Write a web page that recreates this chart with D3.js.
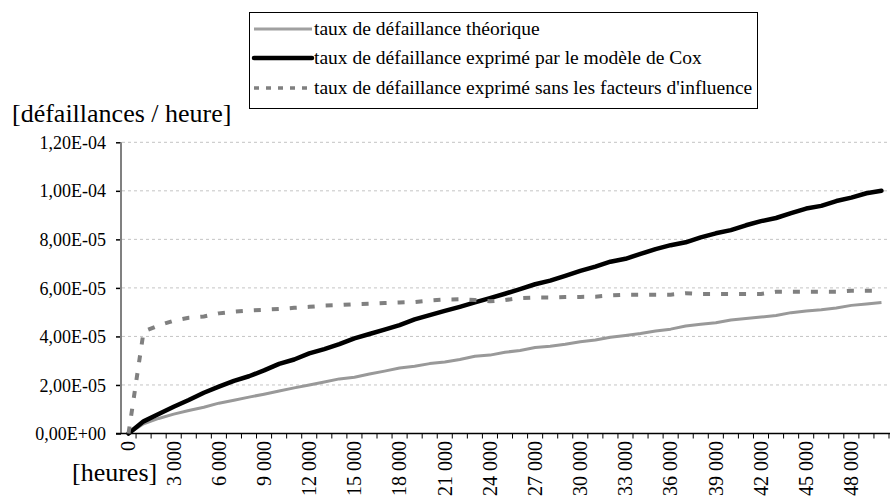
<!DOCTYPE html>
<html>
<head>
<meta charset="utf-8">
<script src="https://cdn.jsdelivr.net/npm/d3@7/dist/d3.min.js"></script>
<style>
  html, body { margin: 0; padding: 0; background: #fff; }
  svg { display: block; }
</style>
</head>
<body>
<svg id="chart" width="890" height="498"></svg>
<script>
// ---- data ----
const hours = [0,1000,2000,3000,4000,5000,6000,7000,8000,9000,10000,11000,12000,13000,14000,15000,16000,17000,18000,19000,20000,
  21000,22000,23000,24000,25000,26000,27000,28000,29000,30000,31000,32000,33000,34000,35000,36000,37000,38000,39000,40000,
  41000,42000,43000,44000,45000,46000,47000,48000,49000,50000];

// values in units of 1e-5 failures / hour
const theorique = [0,0.40,0.62,0.80,0.95,1.08,1.25,1.37,1.50,1.62,1.75,1.88,2.00,2.12,2.25,2.32,2.45,2.57,2.70,2.77,2.88,
  2.95,3.05,3.18,3.23,3.35,3.42,3.54,3.60,3.68,3.78,3.85,3.97,4.04,4.12,4.22,4.30,4.43,4.50,4.56,4.68,
  4.74,4.80,4.86,4.98,5.05,5.10,5.17,5.28,5.34,5.40];
const cox = [0,0.50,0.80,1.10,1.38,1.68,1.93,2.17,2.36,2.60,2.87,3.05,3.30,3.48,3.68,3.92,4.10,4.28,4.47,4.70,4.88,
  5.05,5.22,5.40,5.58,5.76,5.95,6.15,6.30,6.50,6.70,6.88,7.08,7.20,7.40,7.60,7.76,7.88,8.08,8.25,8.38,
  8.58,8.75,8.88,9.08,9.27,9.38,9.58,9.72,9.90,10.00];
const sansFacteurs = [0,4.20,4.45,4.65,4.77,4.82,4.95,5.02,5.07,5.10,5.13,5.18,5.22,5.27,5.29,5.33,5.35,5.38,5.40,5.42,5.48,
  5.52,5.53,5.50,5.45,5.50,5.58,5.60,5.60,5.62,5.63,5.64,5.69,5.72,5.72,5.72,5.72,5.78,5.75,5.75,5.75,
  5.75,5.75,5.84,5.84,5.84,5.84,5.84,5.88,5.88,5.88];

const yTicks = [0, 2e-5, 4e-5, 6e-5, 8e-5, 1e-4, 1.2e-4];
const yTickLabels = ["0,00E+00","2,00E-05","4,00E-05","6,00E-05","8,00E-05","1,00E-04","1,20E-04"];
const xLabelHours = [0,3000,6000,9000,12000,15000,18000,21000,24000,27000,30000,33000,36000,39000,42000,45000,48000];
const xTickLabels = ["0","3 000","6 000","9 000","12 000","15 000","18 000","21 000","24 000","27 000","30 000",
  "33 000","36 000","39 000","42 000","45 000","48 000"];

const seriesNames = ["taux de défaillance théorique",
  "taux de défaillance exprimé par le modèle de Cox",
  "taux de défaillance exprimé sans les facteurs d'influence"];
const yTitle = "[défaillances / heure]";
const xTitle = "[heures]";

const FONT = "Liberation Serif";
const setFont = (sel, size) => sel.attr("font-family", FONT).style("font-family", FONT)
  .attr("font-size", size).style("font-size", size + "px").attr("fill", "#000");

// ---- layout ----
const svg = d3.select("#chart");
const x = d3.scaleBand().domain(hours).range([121, 889]).padding(0);
const y = d3.scaleLinear().domain([0, 1.2e-4]).range([433.5, 142.3]);
const cx = h => x(h) + x.bandwidth() / 2;

// gridlines
svg.append("g").selectAll("line").data(yTicks.slice(1)).join("line")
  .attr("x1", 122).attr("x2", 889)
  .attr("y1", d => y(d)).attr("y2", d => y(d))
  .attr("stroke", "#c4c4c4").attr("stroke-width", 1).attr("stroke-dasharray", "3,3");

// y axis
const yAxis = svg.append("g").attr("transform", "translate(121,0)")
  .call(d3.axisLeft(y).tickValues(yTicks).tickSize(5).tickFormat((d, i) => yTickLabels[i]));
yAxis.attr("font-family", FONT);
yAxis.select(".domain").remove();
yAxis.selectAll(".tick line").attr("stroke", "#000").attr("stroke-width", 1.5);
setFont(yAxis.selectAll(".tick text"), 18).attr("x", -15).attr("dy", "0.34em");
svg.append("line").attr("x1", 121).attr("x2", 121).attr("y1", y(1.2e-4)).attr("y2", y(0))
  .attr("stroke", "#808080").attr("stroke-width", 2);

// x axis
const xBounds = hours.map(h => x(h)).concat([x(hours[hours.length - 1]) + x.bandwidth()]);
const xg = svg.append("g");
xg.append("line").attr("x1", 116).attr("x2", 890).attr("y1", y(0)).attr("y2", y(0))
  .attr("stroke", "#000").attr("stroke-width", 1.5);
xg.selectAll("line.t").data(xBounds.slice(1)).join("line").attr("class", "t")
  .attr("x1", d => d).attr("x2", d => d).attr("y1", y(0)).attr("y2", y(0) + 5)
  .attr("stroke", "#000").attr("stroke-width", 1);
setFont(xg.selectAll("text").data(xLabelHours).join("text"), 20)
  .attr("transform", d => `translate(${cx(d)},441) rotate(-90)`)
  .attr("text-anchor", "end").attr("dy", "0.34em")
  .text((d, i) => xTickLabels[i]);

// lines
const line = vals => d3.line().x((d, i) => cx(hours[i])).y(d => y(d * 1e-5))(vals);
svg.append("path").attr("d", line(theorique)).attr("fill", "none")
  .attr("stroke", "#999999").attr("stroke-width", 3).attr("stroke-linejoin", "round");
svg.append("path").attr("d", line(cox)).attr("fill", "none")
  .attr("stroke", "#000").attr("stroke-width", 4.5).attr("stroke-linejoin", "round").attr("stroke-linecap", "round");
svg.append("path").attr("d", line(sansFacteurs)).attr("fill", "none")
  .attr("stroke", "#808080").attr("stroke-width", 4).attr("stroke-dasharray", "7,11");

// axis titles
setFont(svg.append("text").attr("x", 12).attr("y", 122), 26).text(yTitle);
setFont(svg.append("text").attr("x", 72).attr("y", 481), 26).text(xTitle);

// legend
const lg = svg.append("g");
lg.append("rect").attr("x", 249.5).attr("y", 12.5).attr("width", 508).attr("height", 96)
  .attr("fill", "#fff").attr("stroke", "#000").attr("stroke-width", 1);
const legStyles = [
  {stroke: "#a0a0a0", w: 3, dash: null},
  {stroke: "#000", w: 4.5, dash: null},
  {stroke: "#808080", w: 3.5, dash: "5,7"}
];
const rowsY = [29, 58, 88];
seriesNames.forEach((name, i) => {
  lg.append("line").attr("x1", 254).attr("x2", 312).attr("y1", rowsY[i]).attr("y2", rowsY[i])
    .attr("stroke", legStyles[i].stroke).attr("stroke-width", legStyles[i].w)
    .attr("stroke-dasharray", legStyles[i].dash).attr("stroke-linecap", i === 1 ? "round" : "butt");
  setFont(lg.append("text").attr("x", 314).attr("y", rowsY[i]).attr("dy", "0.32em"), 19.5).text(name);
});
</script>
</body>
</html>
